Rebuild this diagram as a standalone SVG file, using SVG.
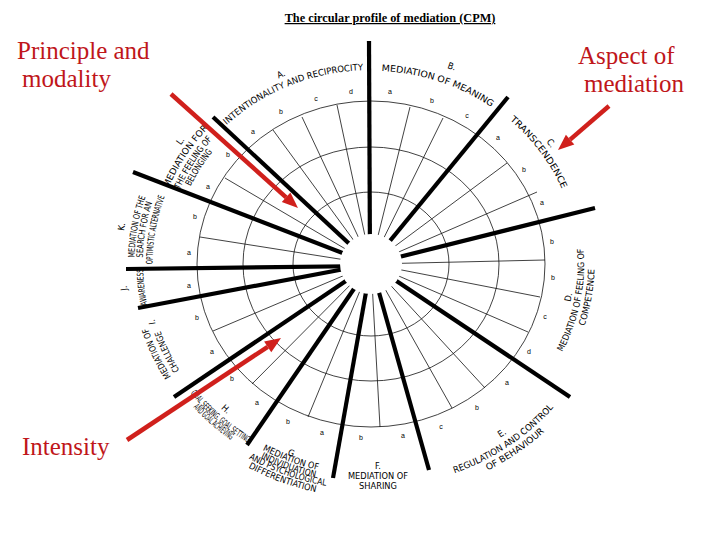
<svg xmlns="http://www.w3.org/2000/svg" xmlns:xlink="http://www.w3.org/1999/xlink" width="720" height="540" viewBox="0 0 720 540">
<style>
.ring{fill:none;stroke:#111;stroke-width:0.8}
.thin{stroke:#111;stroke-width:0.8}
.thick{stroke:#000;stroke-width:4.2;stroke-linecap:butt}
.lbl{font-family:"DejaVu Sans Condensed","Liberation Sans Narrow","DejaVu Sans",sans-serif;font-stretch:condensed;font-size:9px;fill:#000;text-anchor:middle}
.sub{font-family:"Liberation Sans",Arial,sans-serif;font-size:7px;fill:#000;text-anchor:middle}
.red{font-family:"Liberation Serif","Times New Roman",serif;font-size:25px;fill:#c0161a}
.arr{stroke:#d0201c;stroke-width:4.5;fill:none}
.ah{fill:#d0201c}
</style>
<defs>
<path id="pA" d="M178.1,193.5 A207.1,194 0 0 1 446.2,83.3"/>
<path id="pA0" d="M193.6,144.6 A218.4,204.6 0 0 1 392.7,60.4"/>
<path id="pB" d="M283.2,89.2 A206.2,193.2 0 0 1 557.6,181.7"/>
<path id="pB0" d="M337.3,57.8 A222.7,208.6 0 0 1 544.8,133.6"/>
<path id="pC" d="M425.7,76.9 A207.1,194 0 0 1 577.2,281.9"/>
<path id="pC0" d="M462.9,78.4 A218.4,204.6 0 0 1 588.5,245.8"/>
<path id="pD0" d="M527,386.6 A203.6,190.7 0 0 0 562.3,198.8"/>
<path id="pD1" d="M506.3,418.3 A213.2,199.7 0 0 0 556.7,166"/>
<path id="pD2" d="M544.3,396.4 A223.6,209.5 0 0 0 580,189.6"/>
<path id="pE0" d="M414.9,471.9 A226.2,211.9 0 0 0 569.2,366.1"/>
<path id="pE1" d="M373.9,487.3 A238.4,223.3 0 0 0 596,337.8"/>
<path id="pE2" d="M419.8,493.1 A249.3,233.6 0 0 0 589.7,376.2"/>
<path id="pG0" d="M225.7,418.9 A220.1,206.2 0 0 0 366,470.1"/>
<path id="pG1" d="M207.5,410.4 A226.2,211.9 0 0 0 385.6,475.5"/>
<path id="pG2" d="M202.1,416.3 A234.4,219.6 0 0 0 386.9,483.1"/>
<path id="pG3" d="M184,406.4 A241,225.8 0 0 0 409.1,486.9"/>
<path id="pG4" d="M175.9,409.9 A249.7,233.9 0 0 0 408.3,495.3"/>
<path id="pH0" d="M178.6,354.7 A215.4,201.8 0 0 0 285.8,449.3"/>
<path id="pH1" d="M160.4,343.7 A227.1,212.7 0 0 0 300.8,466.3"/>
<path id="pH2" d="M153.2,345.2 A234.4,219.6 0 0 0 297.4,472.5"/>
<path id="pI1" d="M226.3,422.2 A222.4,208.3 0 0 1 148.6,261.8"/>
<path id="pI2" d="M217.3,428.5 A233.3,218.6 0 0 1 137.7,259.4"/>
<path id="pJ1" d="M166.3,357.9 A227.9,213.5 0 0 1 149.8,212.7"/>
<path id="pJ0" d="M150.3,364.4 A245.3,229.8 0 0 1 133.1,208"/>
<path id="pK3" d="M160.6,318.7 A218.4,204.6 0 0 1 191,148.1"/>
<path id="pK2" d="M151.4,322.6 A228.3,213.9 0 0 1 181.9,144.1"/>
<path id="pK1" d="M143,323.2 A236.6,221.7 0 0 1 176,138.4"/>
<path id="pK0" d="M126.1,308.6 A249.5,233.7 0 0 1 152.8,150.7"/>
<path id="pL3" d="M173.5,245.8 A198.5,186 0 0 1 258.8,110.5"/>
<path id="pL2" d="M164.9,243.7 A207.2,194.1 0 0 1 255.1,103.1"/>
<path id="pL1" d="M154.4,240.9 A218,204.2 0 0 1 250.7,93.7"/>
<path id="pL0" d="M149.6,211.1 A228.5,214 0 0 1 237.7,90.2"/>
</defs>
<rect width="720" height="540" fill="#fff"/>

<text id="title" x="390" y="22" text-anchor="middle" font-family="'Liberation Serif','Times New Roman',serif" font-size="12.3" font-weight="bold" text-decoration="underline" fill="#000">The circular profile of mediation (CPM)</text>

<g id="grid">
<ellipse class="ring" cx="371" cy="264" rx="174" ry="163"/>
<ellipse class="ring" cx="371" cy="264" rx="128" ry="117"/>
<ellipse class="ring" cx="371" cy="264" rx="78" ry="72"/>
<g id="thin-lines">
<line class="thin" x1="371" y1="264" x2="273" y2="130"/>
<line class="thin" x1="371" y1="264" x2="302" y2="117"/>
<line class="thin" x1="371" y1="264" x2="337" y2="105"/>
<line class="thin" x1="371" y1="264" x2="410" y2="107"/>
<line class="thin" x1="371" y1="264" x2="443" y2="118"/>
<line class="thin" x1="371" y1="264" x2="507" y2="163"/>
<line class="thin" x1="371" y1="264" x2="537" y2="192"/>
<line class="thin" x1="371" y1="264" x2="545" y2="260"/>
<line class="thin" x1="371" y1="264" x2="540" y2="297"/>
<line class="thin" x1="371" y1="264" x2="528" y2="332"/>
<line class="thin" x1="371" y1="264" x2="485" y2="388"/>
<line class="thin" x1="371" y1="264" x2="452" y2="408"/>
<line class="thin" x1="371" y1="264" x2="380" y2="427"/>
<line class="thin" x1="371" y1="264" x2="308" y2="417"/>
<line class="thin" x1="371" y1="264" x2="252" y2="384"/>
<line class="thin" x1="371" y1="264" x2="213" y2="331"/>
<line class="thin" x1="371" y1="264" x2="200" y2="237"/>
<line class="thin" x1="371" y1="264" x2="225" y2="178"/>
</g>
</g>

<g id="connectors">
<line class="thick" x1="369" y1="41" x2="370" y2="264"/>
<line class="thick" x1="508" y1="97" x2="371" y2="264"/>
<line class="thick" x1="595" y1="208" x2="371" y2="264"/>
<line class="thick" x1="570" y1="397" x2="371" y2="264"/>
<line class="thick" x1="429" y1="470" x2="371" y2="264"/>
<line class="thick" x1="333" y1="478" x2="371" y2="264"/>
<line class="thick" x1="247" y1="445" x2="371" y2="264"/>
<line class="thick" x1="174" y1="397" x2="371" y2="264"/>
<line class="thick" x1="138" y1="308" x2="371" y2="264"/>
<line class="thick" x1="126" y1="269" x2="371" y2="266"/>
<line class="thick" x1="133" y1="172" x2="371" y2="264"/>
<line class="thick" x1="213" y1="117" x2="371" y2="264"/>
</g>

<g id="hub"><ellipse cx="371" cy="264" rx="31" ry="30" fill="#fff"/></g>

<g id="sub-letters">
<text class="sub" x="253" y="134">a</text><text class="sub" x="281" y="114">b</text><text class="sub" x="316" y="101">c</text><text class="sub" x="351" y="94">d</text>
<text class="sub" x="390" y="94">a</text><text class="sub" x="432" y="103">b</text><text class="sub" x="467" y="118">c</text>
<text class="sub" x="498" y="140">a</text><text class="sub" x="524" y="172">b</text><text class="sub" x="542" y="205">a</text>
<text class="sub" x="552" y="244">b</text><text class="sub" x="553" y="280">b</text><text class="sub" x="545" y="319">c</text><text class="sub" x="529" y="354">d</text>
<text class="sub" x="507" y="385">a</text><text class="sub" x="477" y="410">b</text><text class="sub" x="441" y="429">c</text>
<text class="sub" x="403" y="438">a</text><text class="sub" x="361" y="440">b</text>
<text class="sub" x="322" y="435">a</text><text class="sub" x="288" y="424">b</text>
<text class="sub" x="257" y="405">a</text><text class="sub" x="232" y="381">b</text>
<text class="sub" x="212" y="354">a</text><text class="sub" x="197" y="320">b</text>
<text class="sub" x="189" y="288">a</text>
<text class="sub" x="189" y="255">a</text><text class="sub" x="195" y="219">b</text>
<text class="sub" x="208" y="189">a</text><text class="sub" x="228" y="157">b</text>
</g>

<g id="sector-A">
<text class="lbl"><textPath xlink:href="#pA0" href="#pA0" startOffset="50%">A.</textPath></text>
<text class="lbl"><textPath xlink:href="#pA" href="#pA" startOffset="50%" textLength="150" lengthAdjust="spacingAndGlyphs">INTENTIONALITY  AND RECIPROCITY</textPath></text>
</g>
<g id="sector-B">
<text class="lbl"><textPath xlink:href="#pB0" href="#pB0" startOffset="50%">B.</textPath></text>
<text class="lbl"><textPath xlink:href="#pB" href="#pB" startOffset="50%" textLength="117" lengthAdjust="spacingAndGlyphs">MEDIATION OF MEANING</textPath></text>
</g>
<g id="sector-C">
<text class="lbl"><textPath xlink:href="#pC0" href="#pC0" startOffset="50%">C.</textPath></text>
<text class="lbl"><textPath xlink:href="#pC" href="#pC" startOffset="50%" textLength="87" lengthAdjust="spacingAndGlyphs">TRANSCENDENCE</textPath></text>
</g>
<g id="sector-D">
<text class="lbl"><textPath xlink:href="#pD0" href="#pD0" startOffset="50%">D.</textPath></text>
<text class="lbl"><textPath xlink:href="#pD1" href="#pD1" startOffset="50%" textLength="107" lengthAdjust="spacingAndGlyphs">MEDIATION OF FEELING OF</textPath></text>
<text class="lbl"><textPath xlink:href="#pD2" href="#pD2" startOffset="50%" textLength="58" lengthAdjust="spacingAndGlyphs">COMPETENCE</textPath></text>
</g>
<g id="sector-E">
<text class="lbl"><textPath xlink:href="#pE0" href="#pE0" startOffset="50%">E.</textPath></text>
<text class="lbl"><textPath xlink:href="#pE1" href="#pE1" startOffset="50%" textLength="120" lengthAdjust="spacingAndGlyphs">REGULATION AND CONTROL</textPath></text>
<text class="lbl"><textPath xlink:href="#pE2" href="#pE2" startOffset="50%" textLength="69" lengthAdjust="spacingAndGlyphs">OF BEHAVIOUR</textPath></text>
</g>
<g id="sector-F">
<text class="lbl" x="378" y="469">F.</text>
<text class="lbl" x="378" y="479" textLength="60" lengthAdjust="spacingAndGlyphs">MEDIATION OF</text>
<text class="lbl" x="378" y="489" textLength="38" lengthAdjust="spacingAndGlyphs">SHARING</text>
</g>
<g id="sector-G">
<text class="lbl"><textPath xlink:href="#pG0" href="#pG0" startOffset="50%">G.</textPath></text>
<text class="lbl"><textPath xlink:href="#pG1" href="#pG1" startOffset="50%" textLength="59" lengthAdjust="spacingAndGlyphs">MEDIATION OF</textPath></text>
<text class="lbl"><textPath xlink:href="#pG2" href="#pG2" startOffset="50%" textLength="58" lengthAdjust="spacingAndGlyphs">INDIVIDUATION</textPath></text>
<text class="lbl"><textPath xlink:href="#pG3" href="#pG3" startOffset="50%" textLength="82" lengthAdjust="spacingAndGlyphs">AND PSYCHOLOGICAL</textPath></text>
<text class="lbl"><textPath xlink:href="#pG4" href="#pG4" startOffset="50%" textLength="72" lengthAdjust="spacingAndGlyphs">DIFFERENTIATION</textPath></text>
</g>
<g id="sector-H">
<text class="lbl"><textPath xlink:href="#pH0" href="#pH0" startOffset="50%">H.</textPath></text>
<text class="lbl"><textPath xlink:href="#pH1" href="#pH1" startOffset="50%" textLength="76" lengthAdjust="spacingAndGlyphs">GOAL SEEKING, GOAL SETTING</textPath></text>
<text class="lbl"><textPath xlink:href="#pH2" href="#pH2" startOffset="50%" textLength="50" lengthAdjust="spacingAndGlyphs">AND GOAL ACHIEVING</textPath></text>
</g>
<g id="sector-I">
<text class="lbl" transform="translate(152,322) rotate(-100)" dy="3">I.</text>
<text class="lbl"><textPath xlink:href="#pI2" href="#pI2" startOffset="50%" textLength="54" lengthAdjust="spacingAndGlyphs">MEDIATION OF</textPath></text>
<text class="lbl"><textPath xlink:href="#pI1" href="#pI1" startOffset="50%" textLength="44" lengthAdjust="spacingAndGlyphs">CHALLENGE</textPath></text>
</g>
<g id="sector-J">
<text class="lbl"><textPath xlink:href="#pJ0" href="#pJ0" startOffset="50%">J.</textPath></text>
<text class="lbl"><textPath xlink:href="#pJ1" href="#pJ1" startOffset="50%" textLength="36" lengthAdjust="spacingAndGlyphs">AWARENESS</textPath></text>
</g>
<g id="sector-K">
<text class="lbl"><textPath xlink:href="#pK0" href="#pK0" startOffset="50%">K.</textPath></text>
<text class="lbl"><textPath xlink:href="#pK1" href="#pK1" startOffset="50%" textLength="62" lengthAdjust="spacingAndGlyphs">MEDIATION OF THE</textPath></text>
<text class="lbl"><textPath xlink:href="#pK2" href="#pK2" startOffset="50%" textLength="56" lengthAdjust="spacingAndGlyphs">SEARCH FOR AN</textPath></text>
<text class="lbl"><textPath xlink:href="#pK3" href="#pK3" startOffset="50%" textLength="69" lengthAdjust="spacingAndGlyphs">OPTIMISTIC ALTERNATIVE</textPath></text>
</g>
<g id="sector-L">
<text class="lbl"><textPath xlink:href="#pL0" href="#pL0" startOffset="50%">L.</textPath></text>
<text class="lbl"><textPath xlink:href="#pL1" href="#pL1" startOffset="50%" textLength="72" lengthAdjust="spacingAndGlyphs">MEDIATION FOR</textPath></text>
<text class="lbl"><textPath xlink:href="#pL2" href="#pL2" startOffset="50%" textLength="60" lengthAdjust="spacingAndGlyphs">THE FEELING OF</textPath></text>
<text class="lbl"><textPath xlink:href="#pL3" href="#pL3" startOffset="50%" textLength="41" lengthAdjust="spacingAndGlyphs">BELONGING</textPath></text>
</g>

<g id="annotation-principle">
<text class="red" x="17" y="59">Principle and</text>
<text class="red" x="22" y="87">modality</text>
<line class="arr" x1="171" y1="94" x2="286.1" y2="197.3"/>
<polygon class="ah" points="298,208 281.8,202.1 290.4,192.5"/>
</g>
<g id="annotation-aspect">
<text class="red" x="578" y="64">Aspect of</text>
<text class="red" x="584" y="92">mediation</text>
<line class="arr" x1="609" y1="106" x2="570.1" y2="139.6"/>
<polygon class="ah" points="558,150 565.9,134.7 574.3,144.5"/>
</g>
<g id="annotation-intensity">
<text class="red" x="22" y="455">Intensity</text>
<line class="arr" x1="127" y1="440" x2="267.7" y2="346.8"/>
<polygon class="ah" points="281,338 271.3,352.2 264.1,341.4"/>
</g>
</svg>
